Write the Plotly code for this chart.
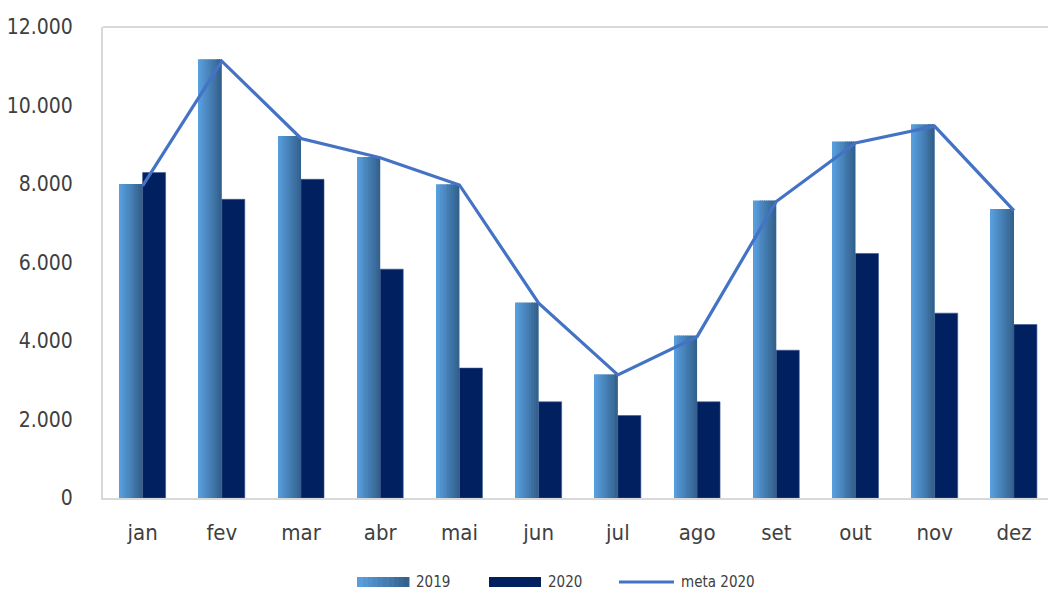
import plotly.graph_objects as go

months = ["jan", "fev", "mar", "abr", "mai", "jun", "jul", "ago", "set", "out", "nov", "dez"]
v2019 = [8000, 11180, 9220, 8690, 7995, 4980, 3150, 4140, 7580, 9085, 9520, 7360]
v2020 = [8290, 7610, 8120, 5830, 3310, 2450, 2100, 2450, 3765, 6230, 4710, 4420]
meta2020 = [7950, 11130, 9160, 8670, 7975, 4965, 3135, 4110, 7555, 9045, 9470, 7320]
y_ticks = [0, 2000, 4000, 6000, 8000, 10000, 12000]

W, H = 1048, 591
ML, MR, MT, MB = 103, 0, 27, 93
PW, PH = W - ML - MR, H - MT - MB

FONT = "DejaVu Sans Condensed, Liberation Sans Narrow, Arial Narrow, sans-serif"
TXT = "#404040"
C2020 = "#002060"
CLINE = "#4472C4"
BW = 0.29
N = 12


def lerp(c1, c2, t):
    return "#%02x%02x%02x" % tuple(int(round(a + (b - a) * t)) for a, b in zip(c1, c2))


G_LEFT = (88, 158, 222)
G_RIGHT = (52, 98, 142)

fig = go.Figure()

# 2019 bars with a horizontal gradient (drawn as thin strips)
for i in range(N):
    t = i / (N - 1)
    fig.add_trace(go.Bar(
        x=months, y=v2019, name="2019",
        width=BW / N, offset=-BW + i * BW / N,
        marker=dict(color=lerp(G_LEFT, G_RIGHT, t), line=dict(width=0)),
        showlegend=False, hoverinfo="y",
    ))

fig.add_trace(go.Bar(
    x=months, y=v2020, name="2020",
    width=BW, offset=0,
    marker=dict(color=C2020, line=dict(width=0.6, color="#3a5590")),
    showlegend=False,
))

fig.add_trace(go.Scatter(
    x=months, y=meta2020, name="meta 2020", mode="lines",
    line=dict(color=CLINE, width=3.2),
    showlegend=False,
))


def px(x):
    return (x - ML) / PW


def py(y):
    return (H - MB - y) / PH


shapes = []
annotations = []
# custom legend
ly = 582
sx0, sx1 = 357, 409
ns = 10
for i in range(ns):
    a = sx0 + (sx1 - sx0) * i / ns
    b = sx0 + (sx1 - sx0) * (i + 1) / ns
    shapes.append(dict(type="rect", xref="paper", yref="paper",
                       x0=px(a), x1=px(b) + 0.0005, y0=py(ly + 5), y1=py(ly - 5),
                       fillcolor=lerp(G_LEFT, G_RIGHT, i / (ns - 1)), line=dict(width=0)))
shapes.append(dict(type="rect", xref="paper", yref="paper",
                   x0=px(489), x1=px(541), y0=py(ly + 5), y1=py(ly - 5),
                   fillcolor=C2020, line=dict(width=0)))
shapes.append(dict(type="line", xref="paper", yref="paper",
                   x0=px(619), x1=px(674), y0=py(ly), y1=py(ly),
                   line=dict(color=CLINE, width=3.2)))
for label, lx in [("2019", 414), ("2020", 546), ("meta 2020", 679)]:
    annotations.append(dict(text=label, xref="paper", yref="paper",
                            x=px(lx), y=py(ly), xanchor="left", yanchor="middle",
                            showarrow=False, font=dict(family=FONT, size=15, color=TXT)))

# top frame line extending beyond right edge
shapes.append(dict(type="line", xref="paper", yref="paper",
                   x0=0, x1=1.01, y0=1, y1=1, line=dict(color="#d9d9d9", width=2)))

fig.update_layout(
    width=W, height=H,
    margin=dict(l=ML, r=MR, t=MT, b=MB),
    paper_bgcolor="white", plot_bgcolor="white",
    barmode="overlay",
    separators=",.",
    showlegend=False,
    shapes=shapes,
    annotations=annotations,
    font=dict(family=FONT, color=TXT),
)
fig.update_xaxes(
    type="category", range=[-0.5, 11.43],
    showgrid=False, zeroline=False,
    showline=True, linecolor="#d9d9d9", linewidth=2,
    ticks="", ticklabelstandoff=14,
    tickfont=dict(family=FONT, size=22, color=TXT),
)
fig.update_yaxes(
    range=[0, 12000], tickvals=y_ticks, tickformat=",d",
    showgrid=False, zeroline=False,
    showline=True, linecolor="#d9d9d9", linewidth=2,
    ticks="", ticklabelstandoff=24,
    tickfont=dict(family=FONT, size=21, color=TXT),
)

fig.write_html("out.html", config={"displayModeBar": False},
               post_script="document.body.style.margin='0';document.body.style.padding='0';")
